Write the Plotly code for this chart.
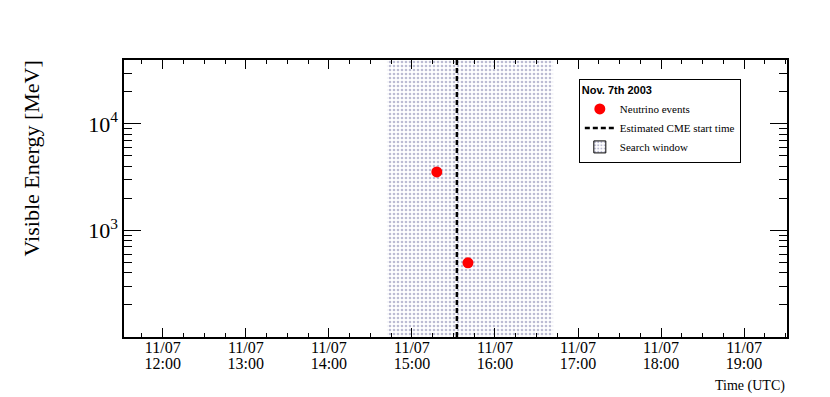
import plotly.graph_objects as go

# Data
event_times = ["2003-11-07 15:18:00", "2003-11-07 15:40:30"]
event_energies = [3540, 497]
cme_time = "2003-11-07 15:32:30"
window_start = "2003-11-07 14:42:00"
window_end = "2003-11-07 16:42:00"
x_range = ["2003-11-07 11:32:00", "2003-11-07 19:31:00"]
y_range_log = [2.0, 4.60]
y_min, y_max = 10 ** y_range_log[0], 10 ** y_range_log[1]

serif = "Liberation Serif, Times New Roman, serif"
sans = "Liberation Sans, Arial, sans-serif"

pattern = dict(shape=".", fgcolor="#7a7aa8", bgcolor="white", size=4, solidity=0.35)

fig = go.Figure()

fig.add_trace(go.Scatter(
    x=[window_start, window_start, window_end, window_end, window_start],
    y=[y_min, y_max, y_max, y_min, y_min],
    fill="toself", mode="lines", line=dict(width=0, color="rgba(0,0,0,0)"),
    fillcolor="white", fillpattern=pattern,
    showlegend=False, hoverinfo="skip",
))

# legend entry for the search window (boxed, patterned icon)
fig.add_trace(go.Bar(
    x=[None], y=[None],
    marker=dict(color="white", pattern=pattern, line=dict(width=1, color="black")),
    name="Search window", legendrank=3, hoverinfo="skip",
))

fig.add_trace(go.Scatter(
    x=[cme_time, cme_time], y=[y_min, y_max], mode="lines",
    line=dict(color="black", width=2.5, dash="5px,3px"),
    name="Estimated CME start time", legendrank=2,
))

fig.add_trace(go.Scatter(
    x=event_times, y=event_energies, mode="markers",
    marker=dict(color="#ff0000", size=11, symbol="circle"),
    name="Neutrino events", legendrank=1,
))

common_x = dict(
    type="date", range=x_range, dtick=3600000,
    tick0="2003-11-07 12:00:00",
    showgrid=False, zeroline=False,
    tickfont=dict(family=serif, size=16, color="black"),
)

fig.update_layout(
    width=822, height=389,
    margin=dict(l=116, r=43, t=52, b=60),
    paper_bgcolor="white", plot_bgcolor="white",
    font=dict(family=serif, color="black"),
    showlegend=True,
    legend=dict(
        x=0.686, y=0.931, xanchor="left", yanchor="top",
        bordercolor="black", borderwidth=1, bgcolor="white",
        font=dict(family=serif, size=11, color="black"),
        title=dict(text="<b>Nov. 7th 2003</b>", font=dict(family=sans, size=11, color="black")),
        tracegroupgap=2, itemwidth=30,
    ),
    xaxis=dict(
        **common_x,
        tickformat="%m/%d",
        ticks="inside", ticklen=9, tickwidth=1, tickcolor="black",
        showline=True, linecolor="black", linewidth=1.5, mirror="ticks",
        ticklabelstandoff=-5,
        minor=dict(dtick=900000, ticks="inside", ticklen=4, tickcolor="black", showgrid=False),
    ),
    xaxis2=dict(
        **common_x,
        overlaying="x", anchor="y", side="bottom", matches="x",
        tickformat="%H:%M", ticks="", showline=False,
        ticklabelstandoff=15,
    ),
    yaxis=dict(
        type="log", range=y_range_log,
        tickvals=[1000, 10000], ticktext=["10<sup>3</sup>", "10<sup>4</sup>"],
        ticks="inside", ticklen=17, tickwidth=1, tickcolor="black",
        showline=True, linecolor="black", linewidth=1.5, mirror="ticks",
        showgrid=False, zeroline=False,
        tickfont=dict(family=serif, size=22, color="black"),
        minor=dict(
            tickvals=[200, 300, 400, 500, 600, 700, 800, 900,
                      2000, 3000, 4000, 5000, 6000, 7000, 8000, 9000,
                      20000, 30000, 40000],
            ticks="inside", ticklen=8, tickcolor="black", showgrid=False,
        ),
    ),
    annotations=[
        dict(text="Visible Energy [MeV]", textangle=-90, xref="paper", yref="paper",
             x=-0.139, y=0.644, xanchor="center", yanchor="middle", showarrow=False,
             font=dict(family=serif, size=22, color="black")),
        dict(text="Time (UTC)", xref="paper", yref="paper", x=1.0, y=-0.142,
             xanchor="right", yanchor="top", showarrow=False,
             font=dict(family=serif, size=14, color="black")),
    ],
)

# invisible trace so the second (label) axis is drawn
fig.add_trace(go.Scatter(x=[cme_time], y=[y_min], xaxis="x2", mode="markers",
                         marker=dict(opacity=0), showlegend=False, hoverinfo="skip"))

fig.write_html("out.html")
